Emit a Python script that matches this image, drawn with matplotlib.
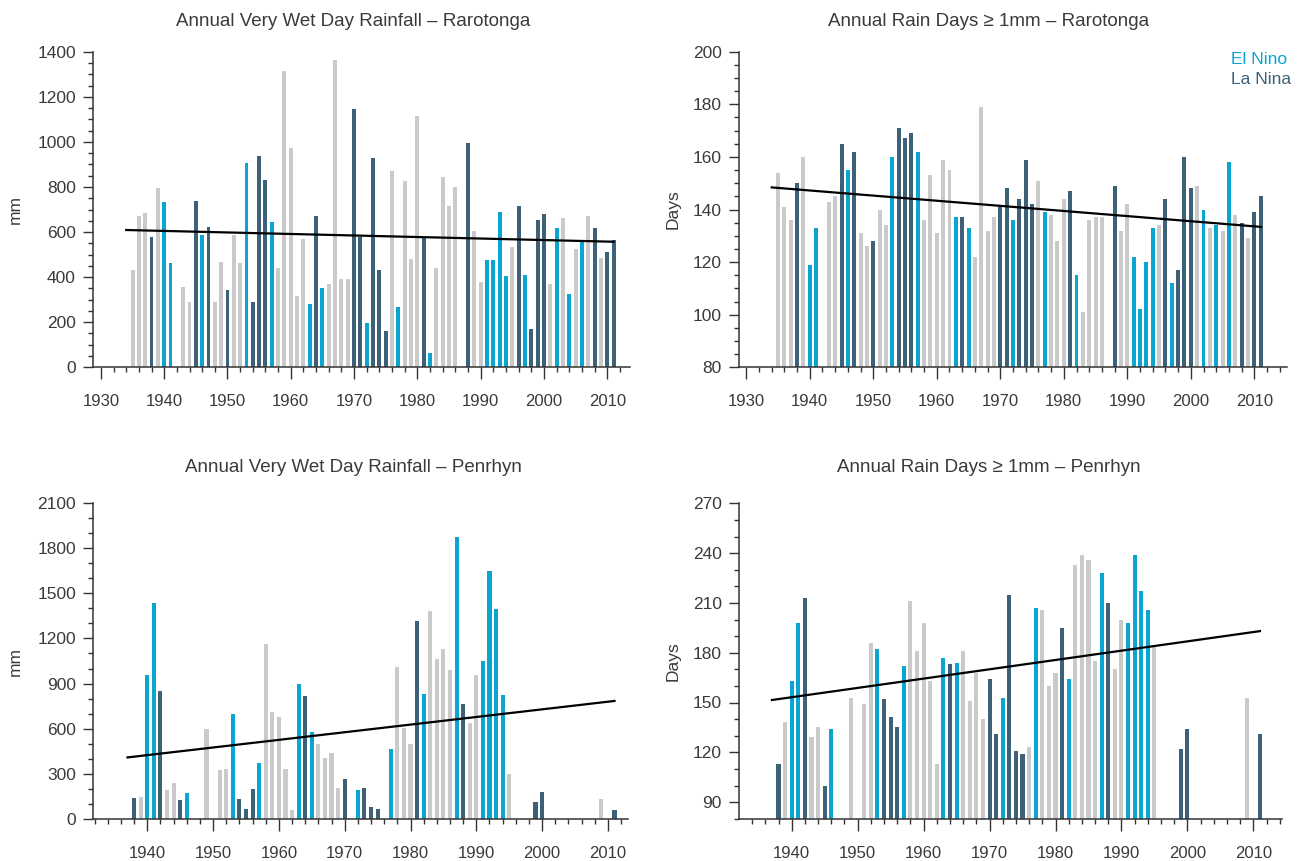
import numpy as np
import matplotlib.pyplot as plt
from matplotlib.ticker import MultipleLocator

plt.rcParams['font.family'] = ['Liberation Sans', 'DejaVu Sans']

# ENSO phase of each year
el_nino = [1940, 1941, 1946, 1953, 1957, 1963, 1965, 1972, 1977, 1982, 1987,
           1991, 1992, 1993, 1994, 1997, 2002, 2004, 2006]
la_nina = [1938, 1942, 1945, 1947, 1950, 1954, 1955, 1956, 1964, 1970, 1971,
           1973, 1974, 1975, 1981, 1988, 1996, 1998, 1999, 2000, 2008, 2010, 2011]

# Rarotonga (1942 and 1987 missing)
raro_years = [y for y in range(1935, 2012) if y not in (1942, 1987)]
raro_wet = [432, 671, 683, 580, 797, 732, 464, 355, 290, 738, 585, 624, 288, 467,
            343, 585, 464, 905, 288, 939, 832, 646, 442, 1313, 971, 315, 569, 282,
            670, 353, 368, 1363, 392, 392, 1146, 580, 195, 927, 432, 161, 871, 266,
            826, 482, 1116, 574, 62, 442, 846, 716, 801, 995, 606, 377, 477, 477,
            687, 405, 535, 714, 409, 169, 652, 681, 368, 618, 661, 324, 526, 560,
            671, 619, 485, 510, 563]
raro_days = [154, 141, 136, 150, 160, 119, 133, 143, 145, 165, 155, 162, 131, 126,
             128, 140, 134, 160, 171, 167, 169, 162, 136, 153, 131, 159, 155, 137,
             137, 133, 122, 179, 132, 137, 141, 148, 136, 144, 159, 142, 151, 139,
             138, 128, 144, 147, 115, 101, 136, 137, 137, 149, 132, 142, 122, 102,
             120, 133, 134, 144, 112, 117, 160, 148, 149, 140, 133, 134, 132, 158,
             138, 135, 129, 139, 145]

# Penrhyn
pen_wet_years = ([y for y in range(1938, 1947)] + [1949] + list(range(1951, 1971))
                 + list(range(1972, 1976)) + list(range(1977, 1996)) + [1999, 2000, 2009, 2011])
pen_wet = [140, 146, 959, 1438, 852, 191, 235, 122, 173, 599, 322, 333, 697, 131,
           62, 200, 368, 1161, 708, 679, 329, 55, 897, 817, 579, 495, 406, 435, 206,
           264, 191, 202, 75, 64, 462, 1008, 602, 497, 1316, 828, 1383, 1061, 1128,
           990, 1874, 761, 639, 959, 1052, 1649, 1399, 821, 297, 113, 180, 129, 58]
pen_days_years = ([y for y in range(1938, 1947)] + [1949] + list(range(1951, 1996))
                  + [1999, 2000, 2009, 2011])
pen_days = [113, 138, 163, 198, 213, 129, 135, 100, 134, 153, 149, 186, 182, 152,
            141, 135, 172, 211, 181, 198, 163, 113, 177, 173, 174, 181, 151, 168,
            140, 164, 131, 153, 215, 121, 119, 123, 207, 206, 160, 168, 195, 164,
            233, 239, 236, 175, 228, 210, 170, 200, 198, 239, 217, 206, 184, 122,
            134, 153, 131]

# trend line end points
raro_wet_trend = [609, 557]
raro_days_trend = [148.4, 133.4]
pen_wet_trend = [408, 784]
pen_days_trend = [151.5, 193]

c_nino = '#0ba5d1'
c_nina = '#3d6179'
c_neutral = '#cacaca'
c_text = '#3a3a3a'

W, H = 1306, 861
fig = plt.figure(figsize=(W / 100, H / 100), dpi=100)


def make_ax(left, top, right, bottom):
    return fig.add_axes([left / W, 1 - bottom / H, (right - left) / W, (bottom - top) / H])


def panel(ax, years, vals, trend_years, trend, ylim, ymaj, ymin, xlim, title, title_x, title_y, ylabel, ylab_x):
    colors = [c_nino if y in el_nino else c_nina if y in la_nina else c_neutral for y in years]
    ax.bar(years, np.array(vals) - ylim[0], bottom=ylim[0], width=0.62, color=colors, zorder=2)
    ax.plot(trend_years, trend, color='black', lw=1.6, zorder=3)
    ax.set_xlim(xlim)
    ax.set_ylim(ylim)
    ax.xaxis.set_major_locator(MultipleLocator(10))
    ax.xaxis.set_minor_locator(MultipleLocator(2))
    ax.yaxis.set_major_locator(MultipleLocator(ymaj))
    ax.yaxis.set_minor_locator(MultipleLocator(ymin))
    for s in ['top', 'right']:
        ax.spines[s].set_visible(False)
    for s in ['left', 'bottom']:
        ax.spines[s].set_color('#333333')
        ax.spines[s].set_linewidth(1.1)
    ax.tick_params(axis='x', which='major', length=8.5, width=1, color='#333333',
                   pad=11, labelsize=12, labelcolor=c_text)
    ax.tick_params(axis='x', which='minor', length=3.5, width=1, color='#333333')
    ax.tick_params(axis='y', which='major', length=7.5, width=1, color='#333333',
                   pad=5, labelsize=12.5, labelcolor=c_text)
    ax.tick_params(axis='y', which='minor', length=3.5, width=1, color='#333333')
    fig.text(title_x / W, 1 - title_y / H, title, ha='center', va='center',
             fontsize=13.5, color=c_text)
    ax.set_ylabel(ylabel, fontsize=12.5, color=c_text)
    ax.yaxis.set_label_coords(ylab_x, 0.5)


ax1 = make_ax(93.3, 51.7, 630, 367.3)
panel(ax1, raro_years, raro_wet, [1934, 2011], raro_wet_trend, (0, 1400), 200, 50,
      (1928.8, 2013.6), 'Annual Very Wet Day Rainfall – Rarotonga', 353, 21, 'mm', -0.131)

ax2 = make_ax(739.3, 51.7, 1286.7, 367.3)
panel(ax2, raro_years, raro_days, [1934, 2011], raro_days_trend, (80, 200), 20, 5,
      (1928.9, 2015.1), 'Annual Rain Days ≥ 1mm – Rarotonga', 989, 21, 'Days', -0.107)

ax3 = make_ax(93.3, 503.3, 628, 818.7)
panel(ax3, pen_wet_years, pen_wet, [1937, 2011], pen_wet_trend, (0, 2100), 300, 100,
      (1931.8, 2013.05), 'Annual Very Wet Day Rainfall – Penrhyn', 353, 468, 'mm', -0.131)

ax4 = make_ax(739.3, 503.3, 1281.7, 818.7)
panel(ax4, pen_days_years, pen_days, [1937, 2011], pen_days_trend, (80, 270), 30, 10,
      (1932.05, 2014.3), 'Annual Rain Days ≥ 1mm – Penrhyn', 989, 468, 'Days', -0.108)

# legend as coloured text
fig.text(1231 / W, 1 - 59 / H, 'El Nino', color=c_nino, fontsize=12.5, va='center')
fig.text(1231 / W, 1 - 80 / H, 'La Nina', color=c_nina, fontsize=12.5, va='center')

fig.savefig('out.png', dpi=100)
